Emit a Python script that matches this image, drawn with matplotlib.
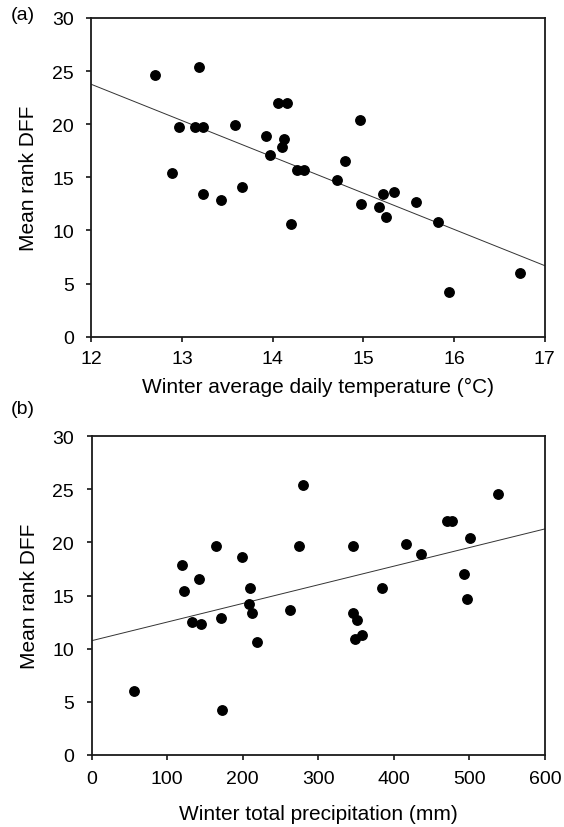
import matplotlib.pyplot as plt
import numpy as np

plt.rcParams['font.family'] = ['Liberation Sans', 'DejaVu Sans']

# (a) winter average daily temperature vs mean rank DFF
temp = [12.70, 13.19, 12.97, 13.14, 13.23, 13.58, 12.89, 13.23, 13.43, 13.66,
        13.93, 13.97, 14.06, 14.16, 14.12, 14.10, 14.20, 14.27, 14.35, 14.71,
        14.80, 14.96, 14.97, 15.17, 15.22, 15.34, 15.25, 15.58, 15.82, 15.94,
        16.73]
rank_a = [24.6, 25.4, 19.7, 19.7, 19.7, 19.9, 15.4, 13.4, 12.9, 14.1,
          18.9, 17.1, 22.0, 22.0, 18.6, 17.9, 10.6, 15.7, 15.7, 14.7,
          16.5, 20.4, 12.5, 12.2, 13.4, 13.6, 11.3, 12.7, 10.8, 4.2,
          6.0]

# (b) winter total precipitation vs mean rank DFF
precip = [280, 164.5, 274.8, 198.5, 119.1, 142.4, 122.2, 209.5, 208.6, 211.8,
          262.9, 132.8, 144.7, 170.7, 218.4, 56, 172.9, 345.5, 415.6, 435.9,
          469.9, 476.5, 538.2, 500.3, 493.2, 496.8, 383.8, 345.5, 351.6, 358.2,
          348.1]
rank_b = [25.45, 19.7, 19.7, 18.6, 17.9, 16.6, 15.4, 15.7, 14.2, 13.4,
          13.65, 12.55, 12.3, 12.9, 10.6, 6.05, 4.27, 19.7, 19.9, 18.9,
          22.0, 22.0, 24.6, 20.4, 17.0, 14.7, 15.7, 13.4, 12.7, 11.3,
          10.9]

fig = plt.figure(figsize=(5.64, 8.28), dpi=100)
ax1 = fig.add_axes([0.1622, 0.5922, 0.8036, 0.3849])
ax2 = fig.add_axes([0.1626, 0.0870, 0.8037, 0.3849])


def panel(ax, x, y, xlim, xticks, xlabel, tag, tag_y, xpad, xlabpad):
    ax.plot(x, y, 'o', color='black', markersize=6.8, zorder=3)
    slope, icpt = np.polyfit(x, y, 1)
    xs = np.array(xlim, dtype=float)
    ax.plot(xs, icpt + slope * xs, color='#333333', linewidth=0.7, zorder=2)
    ax.set_xlim(xlim)
    ax.set_ylim(0, 30)
    ax.set_xticks(xticks)
    ax.set_yticks(range(0, 31, 5))
    for s in ax.spines.values():
        s.set_linewidth(1.3)
        s.set_color('#1a1a1a')
    ax.tick_params(direction='out', length=3.6, width=1.1, labelsize=14,
                   top=False, right=False)
    ax.tick_params(axis='y', pad=9)
    ax.tick_params(axis='x', pad=xpad)
    ax.set_xlabel(xlabel, fontsize=15, labelpad=xlabpad)
    ax.set_ylabel('Mean rank DFF', fontsize=15, labelpad=10)
    ax.text(-0.1776, tag_y, tag, transform=ax.transAxes, fontsize=14,
            ha='left', va='center')


panel(ax1, temp, rank_a, (12, 17), range(12, 18),
      'Winter average daily temperature (\u00b0C)', '(a)', 1.011, 6, 7)
panel(ax2, precip, rank_b, (0, 600), range(0, 601, 100),
      'Winter total precipitation (mm)', '(b)', 1.086, 7.5, 12)

fig.savefig('out.png', dpi=100)
